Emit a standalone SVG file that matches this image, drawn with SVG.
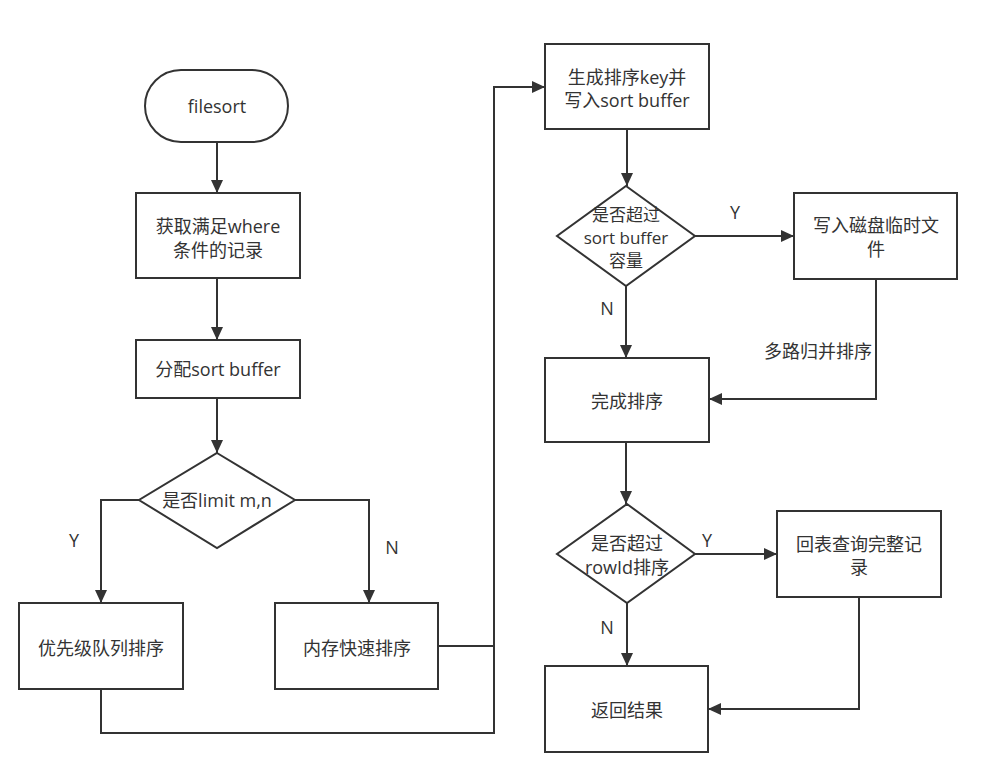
<svg xmlns="http://www.w3.org/2000/svg" width="1000" height="772" viewBox="0 0 1000 772">
<defs>
<marker id="arr" markerUnits="userSpaceOnUse" markerWidth="14" markerHeight="12" refX="13" refY="6" orient="auto">
<path d="M0,0 L13,6 L0,12 z" fill="#333"/>
</marker>
<style>
.n{fill:#fff;stroke:#333;stroke-width:2}
.t{font-family:"Open Sans","Noto Sans CJK SC",sans-serif;font-size:18px;fill:#333;text-anchor:middle;dominant-baseline:central}
.s{font-size:17px}
.c{fill:none;stroke:#333;stroke-width:2}
</style>
</defs>
<rect width="1000" height="772" fill="#fff"/>
<g id="connectors">
<path class="c" d="M217,142 V193" marker-end="url(#arr)"/>
<path class="c" d="M217,278 V340" marker-end="url(#arr)"/>
<path class="c" d="M217,398 V453" marker-end="url(#arr)"/>
<path class="c" d="M139,500 H101 V603" marker-end="url(#arr)"/>
<path class="c" d="M295,500 H369 V603" marker-end="url(#arr)"/>
<path class="c" d="M438,646 H494"/>
<path class="c" d="M101,689 V733 H494 V87 H545" marker-end="url(#arr)"/>
<path class="c" d="M627,129 V186" marker-end="url(#arr)"/>
<path class="c" d="M695,236 H794" marker-end="url(#arr)"/>
<path class="c" d="M876,279 V399 H709" marker-end="url(#arr)"/>
<path class="c" d="M626,286 V358" marker-end="url(#arr)"/>
<path class="c" d="M626,442 V504" marker-end="url(#arr)"/>
<path class="c" d="M695,554 H777" marker-end="url(#arr)"/>
<path class="c" d="M627,603 V666" marker-end="url(#arr)"/>
<path class="c" d="M859,597 V709 H708" marker-end="url(#arr)"/>
<text class="t" x="74" y="540">Y</text>
<text class="t" x="392" y="547">N</text>
<text class="t" x="735" y="212">Y</text>
<text class="t" x="607" y="308">N</text>
<text class="t" x="818" y="351">多路归并排序</text>
<text class="t" x="707" y="540">Y</text>
<text class="t" x="607" y="627">N</text>
</g>
<g id="start">
<rect class="n" x="145" y="70" width="143" height="72" rx="36"/>
<text class="t" x="217" y="106">filesort</text>
</g>
<g id="fetch">
<rect class="n" x="136" y="193" width="164" height="85"/>
<text class="t" x="218" y="226">获取满足where</text>
<text class="t" x="218" y="250">条件的记录</text>
</g>
<g id="alloc">
<rect class="n" x="136" y="340" width="164" height="58"/>
<text class="t" x="218" y="369">分配sort buffer</text>
</g>
<g id="limit">
<polygon class="n" points="217,453 295,500 217,548 139,500"/>
<text class="t" x="217" y="500">是否limit m,n</text>
</g>
<g id="pq">
<rect class="n" x="19" y="603" width="164" height="86"/>
<text class="t" x="101" y="648">优先级队列排序</text>
</g>
<g id="qs">
<rect class="n" x="275" y="603" width="163" height="86"/>
<text class="t" x="357" y="648">内存快速排序</text>
</g>
<g id="genkey">
<rect class="n" x="545" y="44" width="164" height="85"/>
<text class="t" x="627" y="77">生成排序key并</text>
<text class="t" x="627" y="100">写入sort buffer</text>
</g>
<g id="over">
<polygon class="n" points="626,186 695,236 626,286 557,236"/>
<text class="t s" x="626" y="214">是否超过</text>
<text class="t s" x="626" y="237">sort buffer</text>
<text class="t s" x="626" y="260">容量</text>
</g>
<g id="disk">
<rect class="n" x="794" y="193" width="163" height="86"/>
<text class="t" x="876" y="225">写入磁盘临时文</text>
<text class="t" x="876" y="249">件</text>
</g>
<g id="done">
<rect class="n" x="545" y="358" width="164" height="84"/>
<text class="t" x="627" y="401">完成排序</text>
</g>
<g id="rowid">
<polygon class="n" points="627,504 695,554 627,603 557,554"/>
<text class="t" x="627" y="543">是否超过</text>
<text class="t" x="627" y="567">rowId排序</text>
</g>
<g id="lookup">
<rect class="n" x="777" y="511" width="164" height="86"/>
<text class="t" x="859" y="544">回表查询完整记</text>
<text class="t" x="859" y="567">录</text>
</g>
<g id="result">
<rect class="n" x="545" y="666" width="163" height="86"/>
<text class="t" x="627" y="710">返回结果</text>
</g>
</svg>
